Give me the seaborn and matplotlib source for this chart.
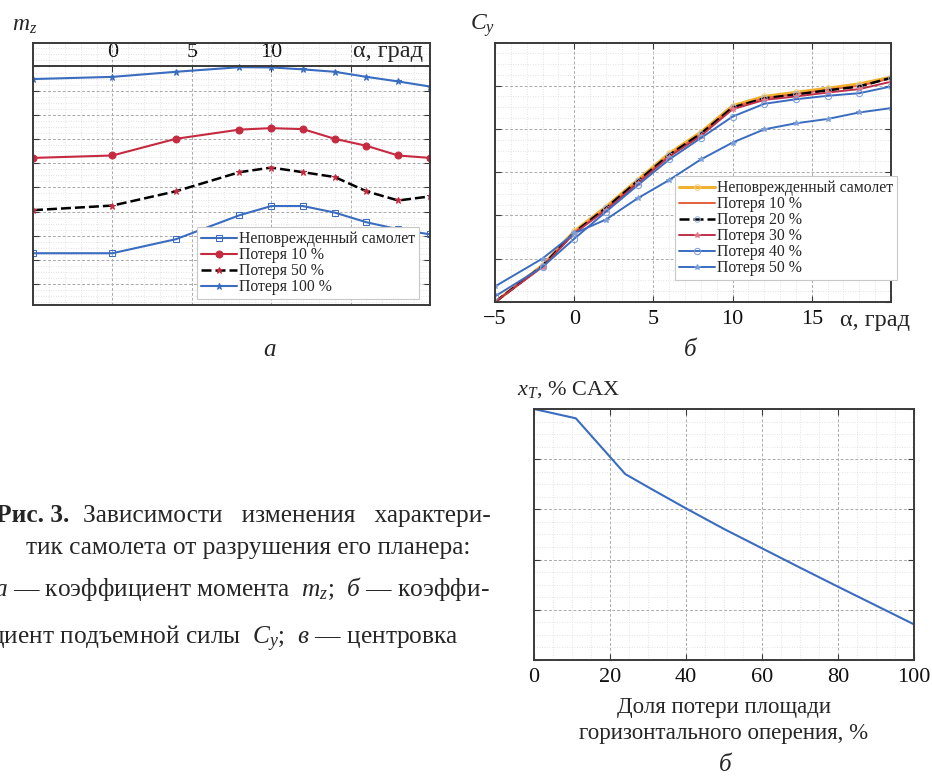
import matplotlib

matplotlib.use("Agg")
import matplotlib.pyplot as plt
import seaborn as sns
from matplotlib.ticker import MultipleLocator, NullFormatter

# --- панель а: коэффициент момента m_z(alpha)
MZ_ALPHA = [-5, 0, 4, 8, 10, 12, 14, 16, 18, 20]
MZ_UNDAMAGED = [-0.0772, -0.0772, -0.0714, -0.0615, -0.0577, -0.0577, -0.0604, -0.0644, -0.0673, -0.0694]
MZ_LOSS_10 = [-0.0378, -0.0368, -0.0299, -0.0261, -0.0255, -0.0259, -0.0299, -0.0328, -0.0368, -0.0378]
MZ_LOSS_50 = [-0.0594, -0.0575, -0.0516, -0.0437, -0.0418, -0.0437, -0.0457, -0.0516, -0.0554, -0.0537]
MZ_LOSS_100 = [-0.0052, -0.0043, -0.0022, -0.0003, -0.0004, -0.0012, -0.0022, -0.0043, -0.0062, -0.0083]
MZ_LABELS = ["Неповрежденный самолет", "Потеря 10 %", "Потеря 50 %", "Потеря 100 %"]

# --- панель б: коэффициент подъемной силы C_y(alpha)
CY_ALPHA = [-5, -2, 0, 2, 4, 6, 8, 10, 12, 14, 16, 18, 20]
CY_UNDAMAGED = [-0.400, -0.230, -0.073, 0.040, 0.164, 0.287, 0.385, 0.507, 0.550, 0.569, 0.588, 0.608, 0.639]
CY_LOSS_10 = [-0.400, -0.233, -0.079, 0.032, 0.156, 0.278, 0.377, 0.500, 0.542, 0.561, 0.581, 0.599, 0.633]
CY_LOSS_20 = [-0.400, -0.233, -0.079, 0.034, 0.158, 0.280, 0.378, 0.499, 0.541, 0.559, 0.578, 0.596, 0.636]
CY_LOSS_30 = [-0.400, -0.238, -0.083, 0.025, 0.148, 0.272, 0.368, 0.491, 0.534, 0.550, 0.568, 0.584, 0.618]
CY_LOSS_40 = [-0.374, -0.238, -0.108, 0.017, 0.139, 0.259, 0.358, 0.457, 0.516, 0.537, 0.553, 0.565, 0.596]
CY_LOSS_50 = [-0.328, -0.199, -0.083, -0.019, 0.079, 0.164, 0.259, 0.337, 0.398, 0.426, 0.446, 0.476, 0.496]
CY_LABELS = ["Неповрежденный самолет", "Потеря 10 %", "Потеря 20 %",
             "Потеря 30 %", "Потеря 40 %", "Потеря 50 %"]

# --- панель в: центровка x_T от доли потери площади ГО
XT_LOSS = [0, 11, 24, 30, 40, 50, 60, 70, 80, 90, 100]
XT_VALUES = [30.0, 29.63, 27.41, 26.89, 26.04, 25.22, 24.45, 23.68, 22.92, 22.17, 21.42]
XT_TICKS = [0, 20, 40, 60, 80, 100]

BLUE = "#3a6cc0"
RED = "#c62a40"
ORANGE = "#f0b030"
ORANGE_RED = "#e5603a"
CRIMSON = "#bf3049"
SPINE = "#3a3a3a"
TICK_FS = 16

sns.set_theme(style="white")
plt.rcParams["font.family"] = ["Liberation Serif", "DejaVu Serif"]
plt.rcParams["mathtext.fontset"] = "custom"
plt.rcParams["mathtext.rm"] = "Liberation Serif"
plt.rcParams["mathtext.it"] = "Liberation Serif:italic"
plt.rcParams["mathtext.bf"] = "Liberation Serif:bold"

W, H = 932, 776
fig = plt.figure(figsize=(W / 100, H / 100), dpi=100)


def px_axes(left, top, right, bottom):
    return fig.add_axes([left / W, 1 - bottom / H, (right - left) / W, (bottom - top) / H])


def style_box(ax):
    for s in ax.spines.values():
        s.set_color(SPINE)
        s.set_linewidth(1.4)
    ax.tick_params(which="major", direction="in", length=4, width=0.8, color=SPINE,
                   top=True, right=True, left=True, bottom=True, labelsize=TICK_FS, pad=6,
                   labelcolor="#111111")
    ax.tick_params(which="minor", length=0)
    ax.grid(which="major", color="#ababab", linestyle=(0, (3, 2)), linewidth=0.7)
    ax.grid(which="minor", color="#dadada", linestyle=(0, (1, 2)), linewidth=0.6)
    ax.set_xlabel("")
    ax.set_ylabel("")


def legend(ax, anchor):
    leg = ax.legend(loc="lower right", bbox_to_anchor=anchor, borderaxespad=0,
                    fontsize=11.3, frameon=True, fancybox=False, framealpha=1,
                    edgecolor="#c8c8c8", borderpad=0.25, labelspacing=0.0,
                    handlelength=2.3, handletextpad=0.1)
    leg.get_frame().set_linewidth(0.8)
    return leg


# ---------------- а ----------------
ax_a = px_axes(33, 43, 430, 305)
sns.lineplot(x=MZ_ALPHA, y=MZ_UNDAMAGED, ax=ax_a, color=BLUE, lw=1.5, marker="s",
             markersize=4, markerfacecolor="none", markeredgecolor=BLUE, label=MZ_LABELS[0])
sns.lineplot(x=MZ_ALPHA, y=MZ_LOSS_10, ax=ax_a, color=RED, lw=1.5, marker="o",
             markersize=5, markeredgecolor=RED, label=MZ_LABELS[1])
sns.lineplot(x=MZ_ALPHA, y=MZ_LOSS_50, ax=ax_a, color="black", lw=1.8,
             linestyle=(0, (4, 1.6)), marker="*", markersize=5,
             markerfacecolor=RED, markeredgecolor=RED, label=MZ_LABELS[2])
sns.lineplot(x=MZ_ALPHA, y=MZ_LOSS_100, ax=ax_a, color=BLUE, lw=1.5, marker="*",
             markersize=5, markeredgecolor=BLUE, label=MZ_LABELS[3])
style_box(ax_a)
MZ_YLIM = (-0.0986, 0.0097)
ax_a.set_xlim(-5, 20)
ax_a.set_ylim(*MZ_YLIM)
ax_a.xaxis.set_minor_locator(MultipleLocator(1))
ax_a.yaxis.set_major_locator(MultipleLocator(0.01))
ax_a.yaxis.set_minor_locator(MultipleLocator(0.0025))
ax_a.set_xticks([0, 5, 10, 15], ["0", "5", "10", ""])
ax_a.spines["top"].set_position(("data", 0))
ax_a.xaxis.set_ticks_position("top")
ax_a.tick_params(axis="x", labeltop=True, labelbottom=False, bottom=False, pad=3)
ax_a.yaxis.set_major_formatter(NullFormatter())
ax_a.axhline(MZ_YLIM[1], color=SPINE, lw=1.4, clip_on=False, zorder=5)
ax_a.annotate("α, град", xy=(20, 0), xycoords="data", xytext=(-5, 3),
              textcoords="offset points", ha="right", va="bottom", fontsize=17.5)
legend(ax_a, (0.972, 0.023))

# ---------------- б ----------------
ax_b = px_axes(495, 43, 891, 302)
sns.lineplot(x=CY_ALPHA, y=CY_UNDAMAGED, ax=ax_b, color=ORANGE, lw=2.2, marker="o",
             markersize=4, markerfacecolor="none", markeredgecolor="#f6cf80", label=CY_LABELS[0])
sns.lineplot(x=CY_ALPHA, y=CY_LOSS_10, ax=ax_b, color=ORANGE_RED, lw=1.4, label=CY_LABELS[1])
sns.lineplot(x=CY_ALPHA, y=CY_LOSS_20, ax=ax_b, color="black", lw=1.8,
             linestyle=(0, (4, 1.6)), marker="o", markersize=4, markerfacecolor="none",
             markeredgecolor="#9db6e0", label=CY_LABELS[2])
sns.lineplot(x=CY_ALPHA, y=CY_LOSS_30, ax=ax_b, color=CRIMSON, lw=1.4, marker="*",
             markersize=4, markeredgecolor="#e07a8a", markerfacecolor="#e07a8a", label=CY_LABELS[3])
sns.lineplot(x=CY_ALPHA, y=CY_LOSS_40, ax=ax_b, color=BLUE, lw=1.4, marker="o",
             markersize=4.5, markerfacecolor="none", markeredgecolor="#7d9fd8", label=CY_LABELS[4])
sns.lineplot(x=CY_ALPHA, y=CY_LOSS_50, ax=ax_b, color=BLUE, lw=1.4, marker="*",
             markersize=4, markeredgecolor="#7d9fd8", markerfacecolor="#7d9fd8", label=CY_LABELS[5])
style_box(ax_b)
ax_b.set_xlim(-5, 20)
ax_b.set_ylim(-0.4, 0.797)
ax_b.set_xticks([-5, 0, 5, 10, 15, 20], ["−5", "0", "5", "10", "15", ""])
ax_b.xaxis.set_minor_locator(MultipleLocator(1))
ax_b.yaxis.set_major_locator(MultipleLocator(0.2))
ax_b.yaxis.set_minor_locator(MultipleLocator(0.05))
ax_b.yaxis.set_major_formatter(NullFormatter())
ax_b.annotate("α, град", xy=(20, 0), xycoords=("data", "axes fraction"), xytext=(14, -6),
              textcoords="offset points", ha="right", va="top", fontsize=17.5)
legend(ax_b, (1.015, 0.085))

# ---------------- в ----------------
ax_c = px_axes(534, 409, 914, 660)
sns.lineplot(x=XT_LOSS, y=XT_VALUES, ax=ax_c, color=BLUE, lw=1.5)
style_box(ax_c)
ax_c.set_xlim(0, 100)
ax_c.set_ylim(20, 30)
ax_c.set_xticks(XT_TICKS)
ax_c.xaxis.set_minor_locator(MultipleLocator(5))
ax_c.yaxis.set_major_locator(MultipleLocator(2))
ax_c.yaxis.set_minor_locator(MultipleLocator(0.5))
ax_c.yaxis.set_major_formatter(NullFormatter())
ax_c.set_xlabel("Доля потери площади\nгоризонтального оперения, %", fontsize=16.5,
                linespacing=1.3, labelpad=7)

# ---------------- подписи ----------------
fig.text(12 / W, 1 - 31 / H, "$m_z$", fontsize=17, va="baseline")
fig.text(470 / W, 1 - 30 / H, "$C_y$", fontsize=17, va="baseline")
fig.text(517 / W, 1 - 395 / H, "$x_T$, % САХ", fontsize=16, va="baseline")
fig.text(270 / W, 1 - 350 / H, "а", fontsize=18, style="italic", ha="center", va="center")
fig.text(690 / W, 1 - 350 / H, "б", fontsize=18, style="italic", ha="center", va="center")
fig.text(725 / W, 1 - 765 / H, "б", fontsize=18, style="italic", ha="center", va="center")

CAP_FS = 18.3
fig.text(-4 / W, 1 - 522 / H, "Рис. 3.", fontsize=CAP_FS, weight="bold", va="baseline")
fig.text(83 / W, 1 - 522 / H, "Зависимости   изменения   характери-", fontsize=CAP_FS,
         va="baseline")
fig.text(470 / W, 1 - 554 / H, "тик самолета от разрушения его планера:", fontsize=CAP_FS,
         ha="right", va="baseline")
fig.text(-6 / W, 1 - 596 / H, r"$\mathit{а}$ — коэффициент момента  $m_z$;  $\mathit{б}$ — коэффи-",
         fontsize=CAP_FS, va="baseline")
fig.text(-10 / W, 1 - 644 / H, r"циент подъемной силы  $C_y$;  $\mathit{в}$ — центровка",
         fontsize=CAP_FS, va="baseline")

fig.savefig("out.png", dpi=100)
